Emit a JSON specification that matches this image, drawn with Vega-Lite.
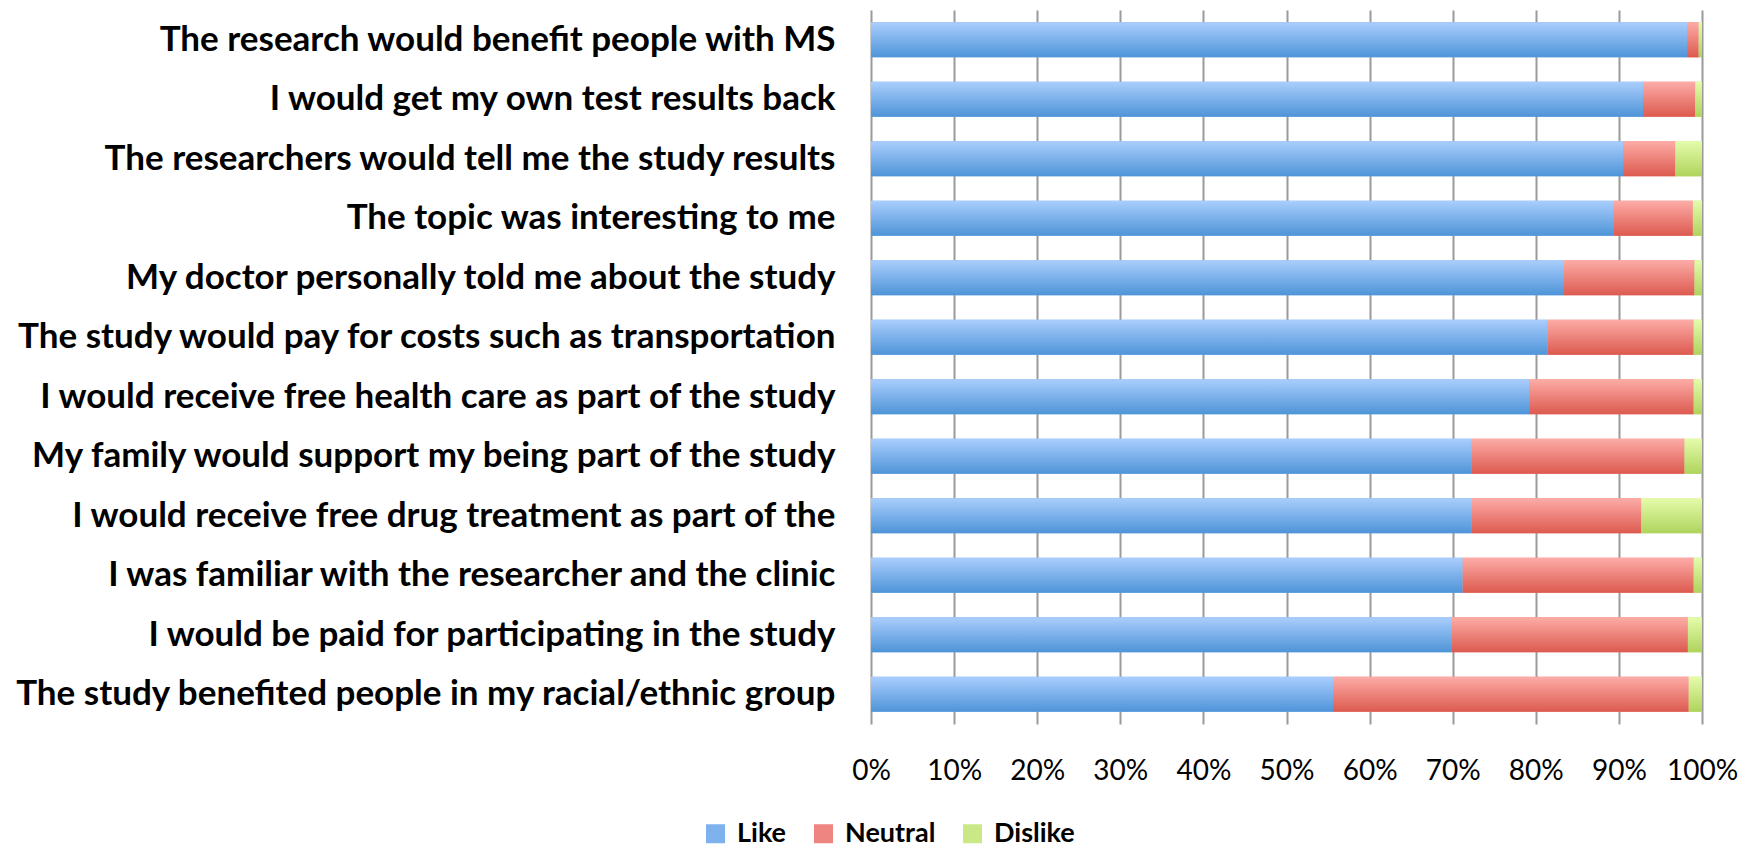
{
  "$schema": "https://vega.github.io/schema/vega-lite/v6.json",
  "width": 831,
  "height": 714,
  "autosize": {"type": "none"},
  "padding": {"left": 871, "top": 10, "right": 50, "bottom": 124},
  "background": "white",
  "config": {
    "view": {"stroke": null},
    "font": "Lato"
  },
  "data": {
    "values": [
      {"item": "The research would benefit people with MS", "response": "Like", "ord": 1, "pct": 98.2},
      {"item": "The research would benefit people with MS", "response": "Neutral", "ord": 2, "pct": 1.4},
      {"item": "The research would benefit people with MS", "response": "Dislike", "ord": 3, "pct": 0.4},
      {"item": "I would get my own test results back", "response": "Like", "ord": 1, "pct": 92.9},
      {"item": "I would get my own test results back", "response": "Neutral", "ord": 2, "pct": 6.3},
      {"item": "I would get my own test results back", "response": "Dislike", "ord": 3, "pct": 0.8},
      {"item": "The researchers would tell me the study results", "response": "Like", "ord": 1, "pct": 90.5},
      {"item": "The researchers would tell me the study results", "response": "Neutral", "ord": 2, "pct": 6.3},
      {"item": "The researchers would tell me the study results", "response": "Dislike", "ord": 3, "pct": 3.2},
      {"item": "The topic was interesting to me", "response": "Like", "ord": 1, "pct": 89.4},
      {"item": "The topic was interesting to me", "response": "Neutral", "ord": 2, "pct": 9.5},
      {"item": "The topic was interesting to me", "response": "Dislike", "ord": 3, "pct": 1.1},
      {"item": "My doctor personally told me about the study", "response": "Like", "ord": 1, "pct": 83.4},
      {"item": "My doctor personally told me about the study", "response": "Neutral", "ord": 2, "pct": 15.7},
      {"item": "My doctor personally told me about the study", "response": "Dislike", "ord": 3, "pct": 0.9},
      {"item": "The study would pay for costs such as transportation", "response": "Like", "ord": 1, "pct": 81.4},
      {"item": "The study would pay for costs such as transportation", "response": "Neutral", "ord": 2, "pct": 17.6},
      {"item": "The study would pay for costs such as transportation", "response": "Dislike", "ord": 3, "pct": 1.0},
      {"item": "I would receive free health care as part of the study", "response": "Like", "ord": 1, "pct": 79.2},
      {"item": "I would receive free health care as part of the study", "response": "Neutral", "ord": 2, "pct": 19.8},
      {"item": "I would receive free health care as part of the study", "response": "Dislike", "ord": 3, "pct": 1.0},
      {"item": "My family would support my being part of the study", "response": "Like", "ord": 1, "pct": 72.3},
      {"item": "My family would support my being part of the study", "response": "Neutral", "ord": 2, "pct": 25.6},
      {"item": "My family would support my being part of the study", "response": "Dislike", "ord": 3, "pct": 2.1},
      {"item": "I would receive free drug treatment as part of the", "response": "Like", "ord": 1, "pct": 72.3},
      {"item": "I would receive free drug treatment as part of the", "response": "Neutral", "ord": 2, "pct": 20.4},
      {"item": "I would receive free drug treatment as part of the", "response": "Dislike", "ord": 3, "pct": 7.3},
      {"item": "I was familiar with the researcher and the clinic", "response": "Like", "ord": 1, "pct": 71.2},
      {"item": "I was familiar with the researcher and the clinic", "response": "Neutral", "ord": 2, "pct": 27.8},
      {"item": "I was familiar with the researcher and the clinic", "response": "Dislike", "ord": 3, "pct": 1.0},
      {"item": "I would be paid for participating in the study", "response": "Like", "ord": 1, "pct": 69.9},
      {"item": "I would be paid for participating in the study", "response": "Neutral", "ord": 2, "pct": 28.4},
      {"item": "I would be paid for participating in the study", "response": "Dislike", "ord": 3, "pct": 1.7},
      {"item": "The study benefited people in my racial/ethnic group", "response": "Like", "ord": 1, "pct": 55.6},
      {"item": "The study benefited people in my racial/ethnic group", "response": "Neutral", "ord": 2, "pct": 42.8},
      {"item": "The study benefited people in my racial/ethnic group", "response": "Dislike", "ord": 3, "pct": 1.6}
    ]
  },
  "encoding": {
    "y": {
      "field": "item",
      "type": "nominal",
      "sort": [
        "The research would benefit people with MS",
        "I would get my own test results back",
        "The researchers would tell me the study results",
        "The topic was interesting to me",
        "My doctor personally told me about the study",
        "The study would pay for costs such as transportation",
        "I would receive free health care as part of the study",
        "My family would support my being part of the study",
        "I would receive free drug treatment as part of the",
        "I was familiar with the researcher and the clinic",
        "I would be paid for participating in the study",
        "The study benefited people in my racial/ethnic group"
      ],
      "scale": {"paddingInner": 0.41, "paddingOuter": 0.205},
      "axis": {
        "title": null,
        "domain": false,
        "ticks": false,
        "grid": false,
        "labelFontSize": 35,
        "labelFontWeight": "bold",
        "labelColor": "#000000",
        "labelPadding": 36,
        "labelLimit": 0
      }
    },
    "x": {
      "field": "pct",
      "type": "quantitative",
      "stack": "normalize",
      "scale": {"domain": [0, 1], "nice": false},
      "axis": {
        "title": null,
        "format": ".0%",
        "values": [0, 0.1, 0.2, 0.3, 0.4, 0.5, 0.6, 0.7, 0.8, 0.9, 1],
        "domain": false,
        "ticks": false,
        "grid": true,
        "gridColor": "#9a9a9a",
        "gridWidth": 2,
        "labelFontSize": 28,
        "labelColor": "#000000",
        "labelPadding": 33,
        "labelBaseline": "top",
        "labelFlush": false
      }
    },
    "order": {"field": "ord", "type": "quantitative"}
  },
  "layer": [
    {
      "mark": {"type": "bar"},
      "encoding": {
        "fill": {
          "field": "response",
          "type": "nominal",
          "scale": {
            "domain": ["Like", "Neutral", "Dislike"],
            "range": ["#7db2ec", "#ee8580", "#cbe887"]
          },
          "legend": {
            "title": null,
            "orient": "none",
            "direction": "horizontal",
            "legendX": -169,
            "legendY": 810,
            "symbolType": "square",
            "symbolSize": 361,
            "symbolStrokeWidth": 0,
            "labelFontSize": 27,
            "labelFontWeight": "bold",
            "labelColor": "#000000",
            "labelOffset": 8,
            "columnPadding": 23
          }
        }
      }
    },
    {
      "mark": {"type": "bar"},
      "encoding": {
        "detail": {"field": "response"},
        "fill": {
          "condition": [
            {
              "test": "datum.response === 'Like'",
              "value": {
                "gradient": "linear", "x1": 0, "y1": 0, "x2": 0, "y2": 1,
                "stops": [{"offset": 0, "color": "#aacefd"}, {"offset": 1, "color": "#4e94d8"}]
              }
            },
            {
              "test": "datum.response === 'Neutral'",
              "value": {
                "gradient": "linear", "x1": 0, "y1": 0, "x2": 0, "y2": 1,
                "stops": [{"offset": 0, "color": "#fdaca7"}, {"offset": 1, "color": "#dc5a4f"}]
              }
            }
          ],
          "value": {
            "gradient": "linear", "x1": 0, "y1": 0, "x2": 0, "y2": 1,
            "stops": [{"offset": 0, "color": "#e5fcab"}, {"offset": 1, "color": "#afd35c"}]
          }
        }
      }
    }
  ]
}
